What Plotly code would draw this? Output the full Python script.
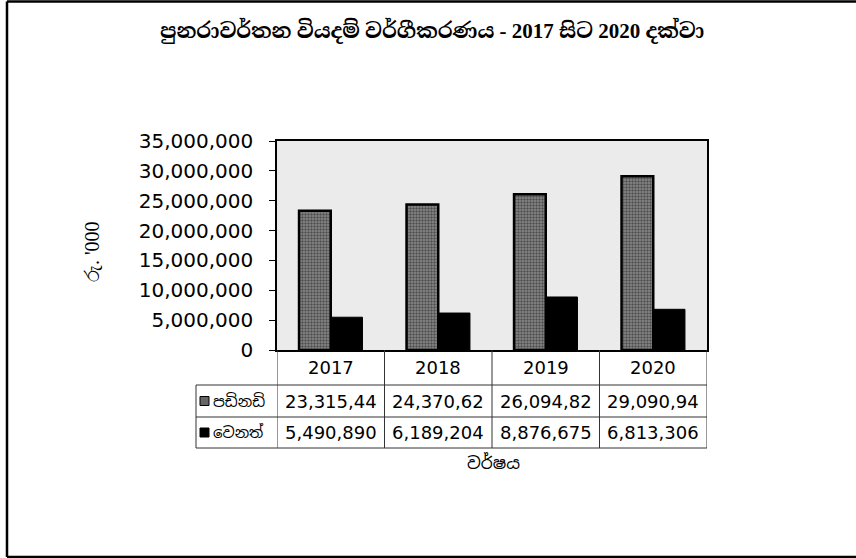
import plotly.graph_objects as go

# ---- data ----
years = ["2017", "2018", "2019", "2020"]
salaries = [23315440, 24370620, 26094820, 29090940]   # පඩිනඩි (table cells clipped to 9 chars)
others = [5490890, 6189204, 8876675, 6813306]         # වෙනත්
series_names = ["පඩිනඩි", "වෙනත්"]
title_text = "පුනරාවර්තන වියදම් වර්ගීකරණය - 2017 සිට 2020 දක්වා"
y_title = "රු. '000"
x_title = "වර්ෂය"

W, H = 856, 558
L, R, T, B = 277, 149, 141, 208
pw, ph = W - L - R, H - T - B


def px_x(x):
    return (x - L) / pw


def px_y(y):
    return (H - B - y) / ph


fig = go.Figure()
fig.add_trace(go.Bar(
    x=years, y=salaries, name=series_names[0],
    marker=dict(color="#777777", line=dict(color="black", width=2.5),
                pattern=dict(shape=".", fgcolor="#111111", bgcolor="#8c8c8c", size=3, solidity=0.5)),
))
fig.add_trace(go.Bar(
    x=years, y=others, name=series_names[1],
    marker=dict(color="black", line=dict(color="black", width=1)),
))

num_font = dict(family="DejaVu Sans, Arial", size=18, color="black")
tick_font = dict(family="DejaVu Sans, Arial", size=20, color="black")
shapes = []
annotations = []

# table geometry (pixels)
y_hdr_bot, y_r1_bot, y_r2_bot = 385, 417, 448
x_left = 196
pl = dict(color="#333333", width=1)
yh, y1, y2 = px_y(y_hdr_bot), px_y(y_r1_bot), px_y(y_r2_bot)
xl = px_x(x_left)

# vertical lines at category boundaries
for i in range(len(years) + 1):
    shapes.append(dict(type="line", xref="x", yref="paper", x0=i - 0.5, x1=i - 0.5,
                       y0=0, y1=y2, line=pl))
# left column
shapes.append(dict(type="line", xref="paper", yref="paper", x0=xl, x1=xl, y0=yh, y1=y2, line=pl))
for yy in (yh, y1, y2):
    shapes.append(dict(type="line", xref="paper", yref="paper", x0=xl, x1=1, y0=yy, y1=yy, line=pl))

# header row: years (x given as category index)
for i, yr in enumerate(years):
    annotations.append(dict(x=i, xref="x", y=(0 + yh) / 2, yref="paper", text=yr,
                            showarrow=False, font=num_font, yanchor="middle"))
# value rows
for i, v in enumerate(salaries):
    annotations.append(dict(x=i, xref="x", y=(yh + y1) / 2, yref="paper", text=f"{v:,}"[:9],
                            showarrow=False, font=num_font, yanchor="middle"))
for i, v in enumerate(others):
    annotations.append(dict(x=i, xref="x", y=(y1 + y2) / 2, yref="paper", text=f"{v:,}",
                            showarrow=False, font=num_font, yanchor="middle"))

# row labels with legend keys
key_x0, key_x1 = px_x(200), px_x(209)
for (ya, yb), nm, col in zip(((yh, y1), (y1, y2)), series_names, ("#666666", "black")):
    mid = (ya + yb) / 2
    kh = 9 / ph / 2
    shapes.append(dict(type="rect", xref="paper", yref="paper", x0=key_x0, x1=key_x1,
                       y0=mid - kh, y1=mid + kh, fillcolor=col, line=dict(color="black", width=1)))
    annotations.append(dict(x=px_x(211), xref="paper", y=mid, yref="paper", text=nm,
                            showarrow=False, xanchor="left", yanchor="middle",
                            font=dict(family="Noto Sans Sinhala, Noto Sans, sans-serif", size=15, color="black")))

# outer frame (top, left, bottom edges)
fl = dict(color="black", width=2.5)
fx0, fx1, fy0, fy1 = px_x(7), px_x(856), px_y(557), px_y(1.5)
shapes.append(dict(type="line", xref="paper", yref="paper", x0=fx0, x1=fx1, y0=fy1, y1=fy1, line=fl))
shapes.append(dict(type="line", xref="paper", yref="paper", x0=fx0, x1=fx0, y0=fy0, y1=fy1, line=fl))
shapes.append(dict(type="line", xref="paper", yref="paper", x0=fx0, x1=fx1, y0=fy0, y1=fy0, line=fl))

# titles
annotations.append(dict(x=px_x(432), xref="paper", y=px_y(30), yref="paper", text=f"<b>{title_text}</b>",
                        showarrow=False, xanchor="center", yanchor="middle",
                        font=dict(family="Liberation Serif, Noto Serif Sinhala, serif", size=21, color="black")))
annotations.append(dict(x=px_x(92), xref="paper", y=px_y(252), yref="paper", text=y_title, textangle=-90,
                        showarrow=False, xanchor="center", yanchor="middle",
                        font=dict(family="Liberation Serif, serif", size=20, color="black")))
annotations.append(dict(x=px_x(493), xref="paper", y=px_y(463), yref="paper", text=x_title,
                        showarrow=False, xanchor="center", yanchor="middle",
                        font=dict(family="Noto Sans Sinhala, Noto Sans, sans-serif", size=17, color="black")))

fig.update_layout(
    width=W, height=H,
    margin=dict(l=L, r=R, t=T, b=B),
    paper_bgcolor="white", plot_bgcolor="#ebebeb",
    barmode="group", bargap=0.41, bargroupgap=0,
    showlegend=False,
    shapes=shapes, annotations=annotations,
)
fig.update_xaxes(type="category", range=[-0.5, len(years) - 0.5], showticklabels=False, showline=True,
                 linecolor="black", linewidth=1.5, mirror=True, ticks="", showgrid=False)
fig.update_yaxes(range=[0, 35000000], dtick=5000000, tickformat=",", showline=True, linecolor="black",
                 linewidth=1.5, mirror=True, ticks="outside", ticklen=6, tickcolor="black",
                 ticklabelstandoff=12, showgrid=False, zeroline=False, tickfont=tick_font)

fig.write_html("out.html", config={"displayModeBar": False},
               post_script="document.body.style.margin='0px';document.body.style.overflow='hidden';")
